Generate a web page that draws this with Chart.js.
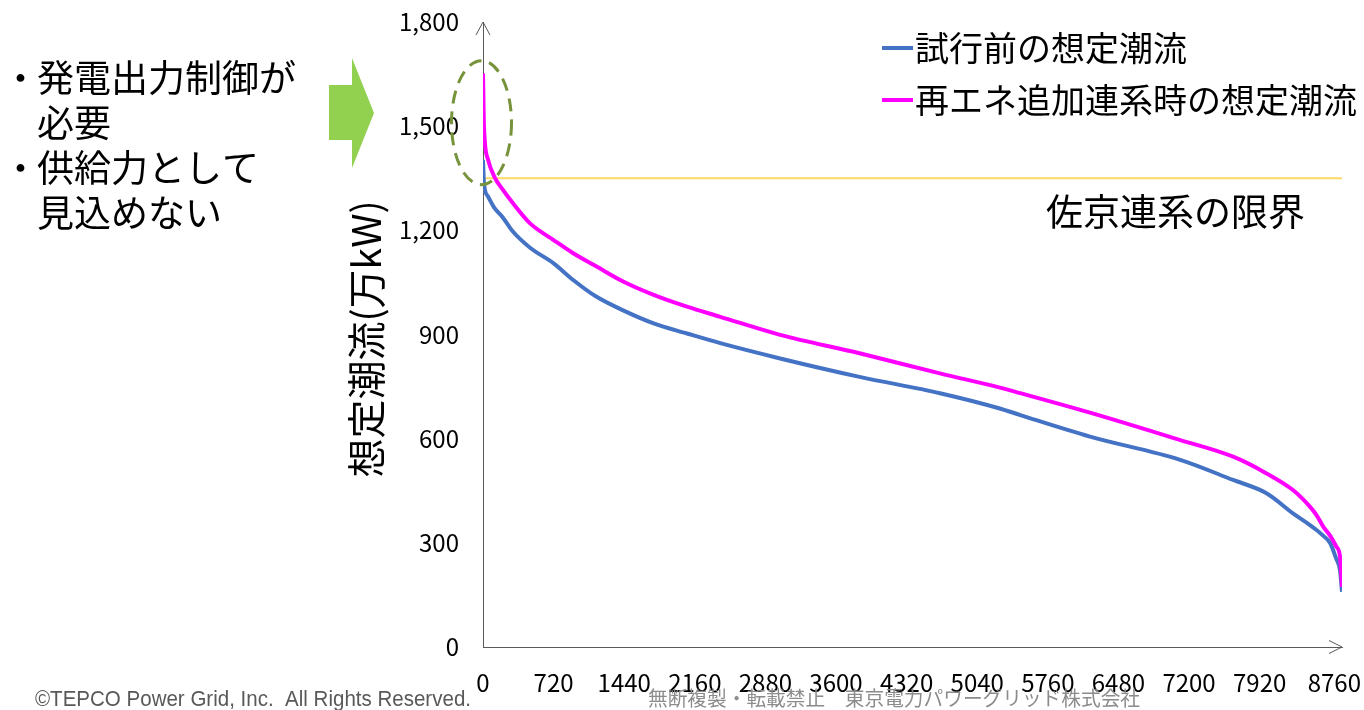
<!DOCTYPE html>
<html lang="ja">
<head>
<meta charset="utf-8">
<title>想定潮流</title>
<script src="https://cdn.jsdelivr.net/npm/chart.js@4.4.1/dist/chart.umd.min.js"></script>
<style>
  html, body { margin: 0; padding: 0; background: #fff; }
  #wrap { width: 1364px; height: 710px; }
</style>
</head>
<body>
<div id="wrap"><canvas id="flow-chart" width="1364" height="710"></canvas></div>
<script>
// hours of the year (duration curve, sorted) and flows in 万kW
const hours = [0, 10, 50, 120, 200, 300, 480, 720, 920, 1150, 1440, 1740, 2080, 2420, 3030,
    3840, 4660, 5270, 5480, 6190, 7110, 7650, 7990, 8260, 8430, 8500, 8570, 8640, 8700, 8740, 8760];
const flowBefore = [1403, 1335, 1298, 1263, 1238, 1198, 1150, 1105, 1057, 1010, 968, 932, 903, 875, 831,
    778, 731, 687, 668, 606, 539, 481, 443, 385, 352, 337, 320, 299, 255, 220, 159];
const flowAfter = [1652, 1499, 1405, 1352, 1318, 1280, 1220, 1172, 1134, 1097, 1051, 1014, 980, 951, 899,
    846, 788, 747, 731, 675, 596, 548, 500, 452, 405, 380, 346, 320, 290, 260, 173];
const limitHours = [0, 8760];
const limitFlow = [1350, 1350];

const xTicks = [0, 720, 1440, 2160, 2880, 3600, 4320, 5040, 5760, 6480, 7200, 7920, 8760];
const yTicks = [0, 300, 600, 900, 1200, 1500, 1800];

const seriesNames = ['試行前の想定潮流', '再エネ追加連系時の想定潮流'];
const limitName = '佐京連系の限界';
const yTitle = '想定潮流(万kW)';
const notes = [['・', '発電出力制御が'], ['', '必要'], ['・', '供給力として'], ['', '見込めない']];

const JP = '"Noto Sans CJK JP", "Noto Sans", sans-serif';

const toPoints = (xs, ys) => xs.map((h, i) => ({ x: h, y: ys[i] }));

// everything that is not a data mark: arrows, notes, legend, footer
const overlay = {
    id: 'overlay',
    afterDraw(chart) {
        const { ctx, chartArea: area, scales: { x, y } } = chart;
        ctx.save();

        // axis arrow heads
        ctx.strokeStyle = '#595959';
        ctx.lineWidth = 1;
        ctx.beginPath();
        ctx.moveTo(area.left - 7, area.top + 13);
        ctx.lineTo(area.left, area.top);
        ctx.lineTo(area.left + 7, area.top + 13);
        ctx.moveTo(area.right - 13, area.bottom - 6.5);
        ctx.lineTo(area.right, area.bottom);
        ctx.lineTo(area.right - 13, area.bottom + 6.5);
        ctx.stroke();

        // x tick labels, last one kept inside the page
        ctx.fillStyle = '#000';
        ctx.font = '24px ' + JP;
        ctx.textAlign = 'center';
        ctx.textBaseline = 'middle';
        for (const t of xTicks) {
            const label = String(t);
            const w = ctx.measureText(label).width;
            const px = Math.min(x.getPixelForValue(t), chart.width - w / 2 - 3);
            ctx.fillText(label, px, area.bottom + 36);
        }

        // y axis title
        ctx.save();
        ctx.translate(366, 339);
        ctx.rotate(-Math.PI / 2);
        ctx.font = '39px ' + JP;
        ctx.fillText(yTitle, 0, 0);
        ctx.restore();

        // dashed ellipse around the peak hours
        ctx.strokeStyle = '#77933C';
        ctx.lineWidth = 3;
        ctx.setLineDash([13, 8]);
        ctx.beginPath();
        ctx.ellipse(x.getPixelForValue(0) - 1.5, y.getPixelForValue(1510), 30, 62, 0, 0, Math.PI * 2);
        ctx.stroke();
        ctx.setLineDash([]);

        // green arrow
        ctx.fillStyle = '#92D050';
        ctx.beginPath();
        ctx.moveTo(329, 85);
        ctx.lineTo(352, 85);
        ctx.lineTo(352, 58);
        ctx.lineTo(374, 113);
        ctx.lineTo(352, 168);
        ctx.lineTo(352, 140);
        ctx.lineTo(329, 140);
        ctx.closePath();
        ctx.fill();

        // notes on the left
        ctx.fillStyle = '#000';
        ctx.font = '37px ' + JP;
        ctx.textAlign = 'left';
        notes.forEach(([bullet, text], i) => {
            const cy = 78 + i * 45;
            if (bullet) ctx.fillText(bullet, 2, cy);
            ctx.fillText(text, 37, cy);
        });

        // legend
        const colors = chart.data.datasets.slice(0, 2).map(d => d.borderColor);
        ctx.font = '34px ' + JP;
        seriesNames.forEach((name, i) => {
            const cy = 48 + i * 52;
            ctx.strokeStyle = colors[i];
            ctx.lineWidth = 4;
            ctx.beginPath();
            ctx.moveTo(882, cy);
            ctx.lineTo(913, cy);
            ctx.stroke();
            ctx.fillStyle = '#000';
            ctx.fillText(name, 915, cy);
        });

        // limit label
        ctx.font = '37px ' + JP;
        ctx.fillText(limitName, 1046, 212);

        // footer
        ctx.textBaseline = 'alphabetic';
        ctx.fillStyle = '#595959';
        ctx.font = '22px "Liberation Sans", Arial, sans-serif';
        ctx.fillText('©TEPCO Power Grid, Inc.  All Rights Reserved.', 35, 706, 436);
        ctx.fillStyle = '#8C8C8C';
        ctx.font = '20px ' + JP;
        ctx.fillText('無断複製・転載禁止　東京電力パワーグリッド株式会社', 648, 706, 492);

        ctx.restore();
    }
};

const flowChart = document.getElementById('flow-chart').getContext('2d');
// eslint-disable-next-line no-undef
new Chart(flowChart, {
    type: 'line',
    data: {
        datasets: [{
            label: seriesNames[0],
            data: toPoints(hours, flowBefore),
            borderColor: '#4472C4',
            borderWidth: 4,
            pointRadius: 0,
            cubicInterpolationMode: 'monotone',
            order: 2
        }, {
            label: seriesNames[1],
            data: toPoints(hours, flowAfter),
            borderColor: '#FF00FF',
            borderWidth: 4,
            pointRadius: 0,
            cubicInterpolationMode: 'monotone',
            order: 1
        }, {
            label: limitName,
            data: toPoints(limitHours, limitFlow),
            borderColor: '#FFD966',
            borderWidth: 2,
            pointRadius: 0,
            order: 3
        }]
    },
    options: {
        responsive: false,
        animation: false,
        events: [],
        layout: { padding: { top: 22, right: 22, bottom: 0, left: 0 } },
        plugins: {
            legend: { display: false },
            tooltip: { enabled: false }
        },
        scales: {
            x: {
                type: 'linear',
                min: 0,
                max: 8760,
                grid: { display: false, drawTicks: false },
                border: { display: true, color: '#595959', width: 1 },
                ticks: { display: false },
                afterFit: (scale) => {
                    scale.height = 63;
                    scale.paddingLeft = 0;
                    scale.paddingRight = 0;
                }
            },
            y: {
                min: 0,
                max: 1800,
                grid: { display: false, drawTicks: false },
                border: { display: true, color: '#595959', width: 1 },
                afterBuildTicks: (scale) => {
                    scale.ticks = yTicks.map(v => ({ value: v }));
                },
                ticks: {
                    padding: 24,
                    color: '#000',
                    font: { family: JP, size: 24 },
                    callback: (v) => v.toLocaleString('en-US')
                },
                afterFit: (scale) => {
                    scale.width = 483;
                    scale.paddingTop = 0;
                    scale.paddingBottom = 0;
                }
            }
        }
    },
    plugins: [overlay]
});
</script>
</body>
</html>
